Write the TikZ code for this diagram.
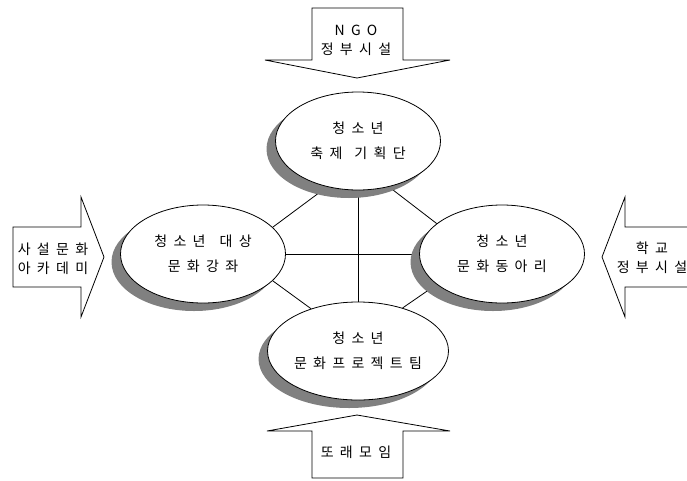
\documentclass[tikz,border=0pt]{standalone}
\usepackage{fontspec}
\usetikzlibrary{shapes.geometric,shadows,backgrounds}
\newfontfamily\kfont{Noto Sans CJK KR}[LetterSpace=45]
\definecolor{shadowgray}{RGB}{128,128,128}

\begin{document}
\begin{tikzpicture}[x=1pt, y=-1pt,
	bubble/.style={ellipse, draw, line width=0.8pt, fill=white, minimum width=165pt, minimum height=98pt, inner sep=0pt, align=center, font=\kfont\fontsize{14}{25}\selectfont, drop shadow={shadow xshift=-9pt, shadow yshift=-8pt, fill=shadowgray, opacity=1}},
	arrowtext/.style={align=center, inner sep=0pt, font=\kfont\fontsize{14}{19}\selectfont},
	flow/.style={draw, line width=0.8pt, fill=white},
	link/.style={draw, line width=0.8pt}]

	\useasboundingbox (0,0) rectangle (687,480);

	\node[bubble] (festival) at (358,141) {청소년\\축제\kern12pt 기획단};
	\node[bubble] (lecture) at (203,254) {청소년\kern14pt 대상\\문화강좌};
	\node[bubble] (club) at (502,254) {청소년\\문화동아리};
	\node[bubble] (project) at (358,351) {청소년\\문화프로젝트팀};

	\begin{scope}[on background layer]
		\draw[link] (lecture.east) -- (club.west);
		\draw[link] (festival.south) -- (project.north);
		\draw[link] (festival.236) -- (lecture.21);
		\draw[link] (festival.304) -- (club.155);
		\draw[link] (lecture.339) -- (project.138);
		\draw[link] (club.205) -- (project.44);
	\end{scope}

	\draw[flow] (312,8) -- (403,8) -- (403,60) -- (450,60) -- (357,78) -- (265,60) -- (312,60) -- cycle;
	\node[arrowtext] (ngo) at (356,40) {NGO\\정부시설};

	\draw[flow] (357,415) -- (450,431) -- (403,431) -- (403,478) -- (312,478) -- (312,431) -- (267,431) -- cycle;
	\node[arrowtext] (meet) at (356,452) {또래모임};

	\draw[flow] (13,227) -- (81,227) -- (81,197) -- (104,257) -- (81,317) -- (81,287) -- (13,287) -- cycle;
	\node[arrowtext] (academy) at (53,259) {사설문화\\아카데미};

	\draw[flow] (700,227) -- (625,227) -- (625,197) -- (602,257) -- (625,317) -- (625,287) -- (700,287) -- cycle;
	\node[arrowtext] (school) at (652,258) {학교\\정부시설};

\end{tikzpicture}
\end{document}
